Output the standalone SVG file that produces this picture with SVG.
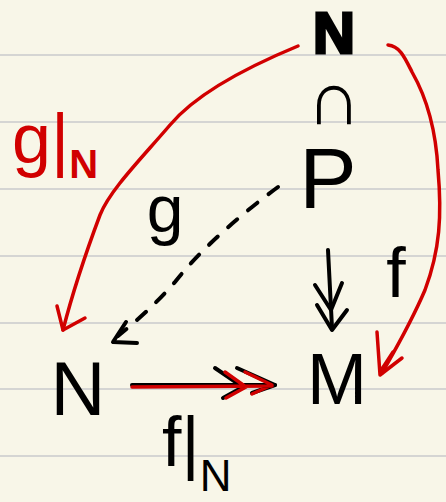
<svg xmlns="http://www.w3.org/2000/svg" width="446" height="502" viewBox="0 0 446 502">
<style>
.bg{fill:#f8f6e8}
.rule{stroke:#d5d5d3;stroke-width:2}
.lbl{font-family:"Liberation Sans","DejaVu Sans",sans-serif;fill:#000}
.red{fill:#d10000}
.ink{fill:none;stroke:#000;stroke-width:4;stroke-linecap:round;stroke-linejoin:round}
.rink{fill:none;stroke:#d10000;stroke-width:3.5;stroke-linecap:round;stroke-linejoin:round}
.dash{stroke-dasharray:12 14}
</style>
<rect class="bg" x="0" y="0" width="446" height="502"/>
<g id="paper">
<line class="rule" x1="0" y1="55" x2="446" y2="55"/>
<line class="rule" x1="0" y1="122" x2="446" y2="122"/>
<line class="rule" x1="0" y1="189" x2="446" y2="189"/>
<line class="rule" x1="0" y1="256" x2="446" y2="256"/>
<line class="rule" x1="0" y1="323" x2="446" y2="323"/>
<line class="rule" x1="0" y1="389" x2="446" y2="389"/>
<line class="rule" x1="0" y1="456" x2="446" y2="456"/>
</g>
<g id="connectors">
<path class="rink" d="M298,46 C240,70 195,95 170,125 C140,160 110,190 100,215 C85,255 72,295 63,330"/>
<path class="rink" d="M57,306 L63,330 L85,318"/>
<path class="rink" d="M388,45 C400,46 405,58 412,72 C428,100 436,130 438,170 C442,215 440,250 425,290 C410,325 395,350 382,373"/>
<path class="rink" d="M377,332 L380,375 L402,358 M393,352 L380,372"/>
<path class="ink dash" d="M278,187 C240,215 200,250 175,282 C155,305 135,322 118,336"/>
<path class="ink" d="M126,322 L113,342 L137,343"/>
<path class="ink" d="M328,250 L332,328"/>
<path class="ink" d="M315,285 L331,310 L342,283 M317,305 L332,330 L347,310"/>
<path class="ink" d="M132,385 L275,385"/>
<path class="ink" d="M215,368 L243,387 L223,398 M237,368 L275,385 L252,393"/>
<path class="rink" d="M132,387 L272,386 M225,372 L246,387 L226,398 M245,372 L272,385 L252,394"/>
</g>
<g id="node-N-top"><text class="lbl" x="334" y="53" font-size="58" font-weight="bold" text-anchor="middle" stroke="#000" stroke-width="3">N</text></g>
<g id="node-cap"><text class="lbl" x="334" y="124" font-size="76" text-anchor="middle">∩</text></g>
<g id="node-P"><text class="lbl" x="328" y="208" font-size="86" text-anchor="middle">P</text></g>
<g id="node-N"><text class="lbl" x="78" y="415" font-size="76" text-anchor="middle">N</text></g>
<g id="node-M"><text class="lbl" x="337" y="404" font-size="72" text-anchor="middle">M</text></g>
<g id="labels">
<text class="lbl" x="165" y="232" font-size="66" text-anchor="middle">g</text>
<text class="lbl" x="396" y="297" font-size="70" text-anchor="middle">f</text>
<text class="lbl red" x="12" y="163" font-size="70">g|<tspan font-size="40" dy="15" font-weight="bold">N</tspan></text>
<text class="lbl" x="162" y="466" font-size="70">f|<tspan font-size="44" dy="25">N</tspan></text>
</g>
</svg>
